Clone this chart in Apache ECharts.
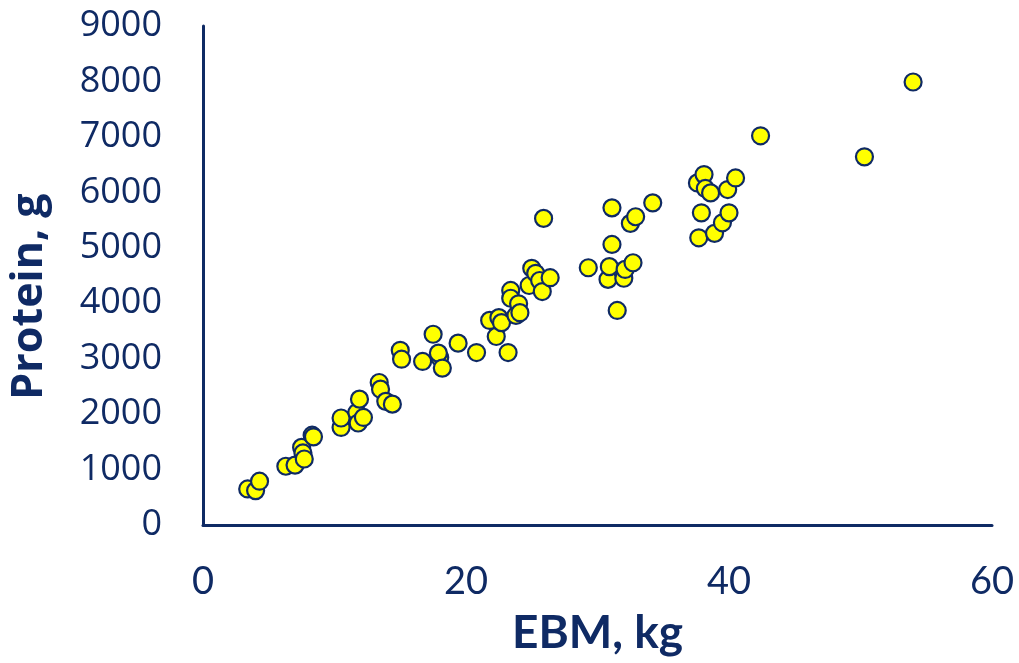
<!DOCTYPE html>
<html>
<head>
<meta charset="utf-8">
<script src="https://cdn.jsdelivr.net/npm/echarts@6/dist/echarts.min.js"></script>
<style>
  html, body { margin: 0; padding: 0; background: #ffffff; }
  #chart { width: 1019px; height: 663px; }
</style>
</head>
<body>
<div id="chart"></div>
<script>
// Empty body mass (kg) against body protein (g)
const ebmKg = [
  3.4, 4.0, 4.3, 6.3, 7.0, 7.5, 7.6, 7.7, 8.3, 8.4,
  10.5, 10.5, 11.7, 11.8, 11.9, 12.2, 13.4, 13.5, 13.9, 14.4,
  15.0, 15.1, 16.7, 17.5, 18.0, 17.9, 18.2, 19.4, 20.8, 21.8,
  22.3, 22.5, 22.7, 23.2, 23.4, 23.4, 23.8, 24.0, 24.1, 24.8,
  25.0, 25.3, 25.6, 25.8, 25.9, 26.4, 29.3, 30.8, 30.9, 31.1,
  31.1, 31.5, 32.0, 32.1, 32.5, 32.7, 32.9, 34.2, 37.6, 37.7,
  37.9, 38.1, 38.2, 38.6, 38.9, 39.5, 39.9, 40.0, 40.5, 42.4,
  50.3, 54.0
];
const proteinG = [
  650, 620, 790, 1060, 1080, 1400, 1300, 1190, 1620, 1590,
  1760, 1930, 2030, 1840, 2270, 1940, 2570, 2450, 2230, 2180,
  3150, 2990, 2950, 3440, 3020, 3100, 2830, 3280, 3110, 3690,
  3400, 3740, 3650, 3110, 4230, 4090, 3780, 3990, 3830, 4320,
  4630, 4540, 4410, 4210, 5530, 4460, 4640, 4430, 4660, 5060,
  5720, 3870, 4450, 4610, 5440, 4730, 5560, 5810, 6170, 5180,
  5630, 6320, 6070, 5990, 5260, 5450, 6050, 5630, 6260, 7020,
  6640, 7990
];
const xTicks = { min: 0, max: 60, interval: 20 };
const yTicks = { min: 0, max: 9000, interval: 1000 };

const navy = '#0f2a64';
const sans = '"Open Sans", "DejaVu Sans", sans-serif';
const narrow = 'Lato, "Liberation Sans", sans-serif';
const points = ebmKg.map((x, i) => [x, proteinG[i]]);

const chart = echarts.init(document.getElementById('chart'), null, { renderer: 'canvas' });
chart.setOption({
  backgroundColor: '#ffffff',
  animation: false,
  grid: { left: 203, right: 27, top: 26, bottom: 138 },
  xAxis: {
    type: 'value',
    min: xTicks.min, max: xTicks.max, interval: xTicks.interval,
    name: 'EBM, kg',
    nameLocation: 'middle',
    nameGap: 85,
    nameTextStyle: { color: navy, fontFamily: narrow, fontWeight: 'bold', fontSize: 46 },
    axisLine: { show: true, lineStyle: { color: navy, width: 3 } },
    axisTick: { show: false },
    splitLine: { show: false },
    axisLabel: { color: navy, fontFamily: narrow, fontSize: 38, margin: 38, formatter: v => String(v) }
  },
  yAxis: {
    type: 'value',
    min: yTicks.min, max: yTicks.max, interval: yTicks.interval,
    name: 'Protein, g',
    nameLocation: 'middle',
    nameRotate: 90,
    nameGap: 152,
    nameTextStyle: { color: navy, fontFamily: sans, fontWeight: 'bold', fontSize: 43, padding: [0, 42, 0, 0] },
    axisLine: { show: true, lineStyle: { color: navy, width: 3 } },
    axisTick: { show: false },
    splitLine: { show: false },
    axisLabel: { color: navy, fontFamily: sans, fontSize: 36, margin: 41, formatter: v => String(v) }
  },
  series: [{
    type: 'scatter',
    data: points,
    symbol: 'circle',
    symbolSize: 17,
    itemStyle: { color: '#ffff00', borderColor: navy, borderWidth: 2.2, opacity: 1 }
  }]
});
</script>
</body>
</html>
